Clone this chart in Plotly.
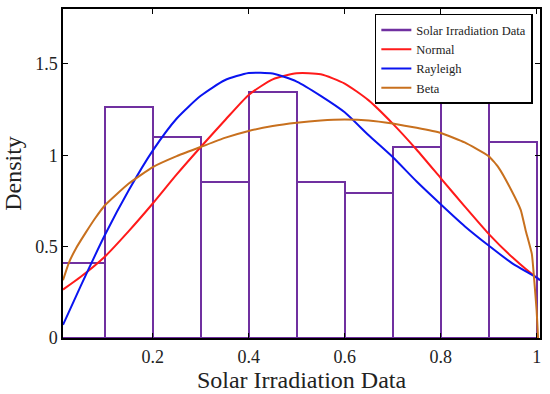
import plotly.graph_objects as go

# ---------------- data ----------------
bin_centers = [0.05, 0.15, 0.25, 0.35, 0.45, 0.55, 0.65, 0.75, 0.85, 0.95]
bin_width = 0.1
hist_density = [0.413, 1.263, 1.098, 0.852, 1.348, 0.851, 0.796, 1.045, 1.292, 1.071]

curve_x = [0.013, 0.05, 0.1, 0.15, 0.2, 0.25, 0.3, 0.35, 0.4, 0.45, 0.5,
           0.55, 0.6, 0.65, 0.7, 0.75, 0.8, 0.85, 0.9, 0.95, 1.0, 1.007]
normal_y = [0.265, 0.335, 0.445, 0.585, 0.736, 0.895, 1.045, 1.19, 1.33, 1.415, 1.448,
            1.443, 1.392, 1.30, 1.173, 1.03, 0.875, 0.72, 0.57, 0.44, 0.33, 0.318]
rayleigh_y = [0.072, 0.285, 0.562, 0.808, 1.025, 1.201, 1.325, 1.41, 1.45, 1.447, 1.403,
              1.325, 1.235, 1.109, 0.99, 0.856, 0.732, 0.612, 0.506, 0.407, 0.33, 0.316]

beta_x = [0.013, 0.025, 0.04, 0.06, 0.08, 0.1, 0.15, 0.2, 0.25, 0.3, 0.35, 0.4, 0.45,
          0.5, 0.55, 0.6, 0.65, 0.7, 0.75, 0.8, 0.85, 0.9, 0.92, 0.947, 0.967,
          0.977, 0.99, 0.995, 1.0, 1.003]
beta_y = [0.316, 0.41, 0.49, 0.575, 0.655, 0.725, 0.845, 0.935, 0.995, 1.045, 1.095,
          1.133, 1.16, 1.178, 1.19, 1.195, 1.19, 1.173, 1.15, 1.122, 1.07, 0.995,
          0.935, 0.81, 0.70, 0.59, 0.46, 0.316, 0.15, 0.0]

x_ticks = [0.2, 0.4, 0.6, 0.8, 1.0]
x_ticklabels = ["0.2", "0.4", "0.6", "0.8", "1"]
y_ticks = [0, 0.5, 1, 1.5]
y_ticklabels = ["0", "0.5", "1", "1.5"]

# ---------------- styles ----------------
PURPLE = "#7030A0"
RED = "#FF1A1A"
BLUE = "#0A14F0"
ORANGE = "#C8701E"
FONT = "Liberation Serif"

fig = go.Figure()

fig.add_trace(go.Bar(
    x=bin_centers, y=hist_density, width=bin_width,
    marker=dict(color="rgba(0,0,0,0)", line=dict(color=PURPLE, width=2)),
    showlegend=False, hoverinfo="x+y",
))
# legend entry for the histogram (drawn as a line in the reference legend)
fig.add_trace(go.Scatter(x=[None], y=[None], mode="lines",
                         line=dict(color=PURPLE, width=2.5),
                         name="Solar Irradiation Data"))
fig.add_trace(go.Scatter(x=curve_x, y=normal_y, mode="lines", name="Normal",
                         line=dict(color=RED, width=2, shape="spline", smoothing=0.6)))
fig.add_trace(go.Scatter(x=curve_x, y=rayleigh_y, mode="lines", name="Rayleigh",
                         line=dict(color=BLUE, width=2, shape="spline", smoothing=0.6)))
fig.add_trace(go.Scatter(x=beta_x, y=beta_y, mode="lines", name="Beta",
                         line=dict(color=ORANGE, width=2, shape="spline", smoothing=0.4)))

axis_common = dict(
    showline=True, linecolor="black", linewidth=1.5, mirror="ticks",
    ticks="inside", ticklen=5, tickwidth=1.2, tickcolor="black",
    showgrid=False, zeroline=False, automargin=False,
    tickfont=dict(family=FONT, size=18, color="#222"),
)

fig.update_layout(
    width=550, height=394,
    margin=dict(l=63, r=10, t=9, b=56, autoexpand=False),
    paper_bgcolor="white", plot_bgcolor="white",
    font=dict(family=FONT, color="#222"),
    bargap=0,
    xaxis=dict(range=[0.013, 1.007], tickvals=x_ticks, ticktext=x_ticklabels,
               ticklabelstandoff=2,
               title=dict(text="Solar Irradiation Data",
                          font=dict(family=FONT, size=24, color="#222"), standoff=2),
               **axis_common),
    yaxis=dict(range=[0, 1.8], tickvals=y_ticks, ticktext=y_ticklabels,
               title=dict(text="Density",
                          font=dict(family=FONT, size=24, color="#222"), standoff=8),
               **axis_common),
    legend=dict(x=0.985, y=0.985, xanchor="right", yanchor="top",
                bgcolor="white", bordercolor="black", borderwidth=1.5,
                font=dict(family=FONT, size=12.5, color="#222"),
                tracegroupgap=0, itemwidth=30),
    showlegend=True,
)

fig.write_html("out.html",
               config={"displayModeBar": False},
               post_script="document.body.style.margin='0';document.body.style.padding='0';")
